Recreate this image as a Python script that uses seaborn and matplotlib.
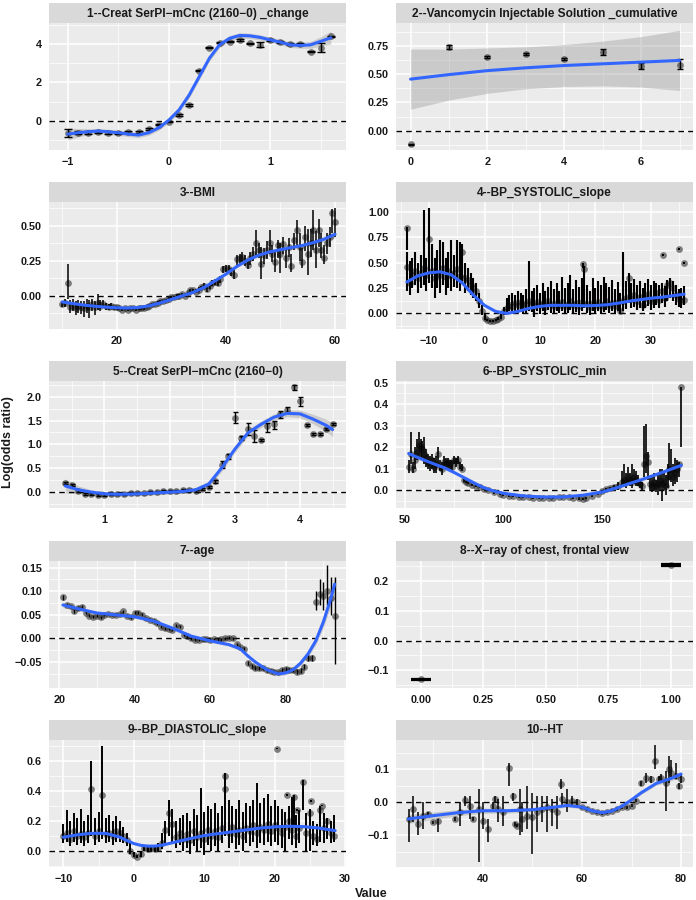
import numpy as np
import matplotlib
matplotlib.use("Agg")
import matplotlib.pyplot as plt
import seaborn as sns

sns.set_theme(style="darkgrid")
plt.rcParams["font.family"] = ["Liberation Sans", "DejaVu Sans"]

# ---- panel titles ----
titles = ["1--Creat SerPl\u2212mCnc (2160\u22120) _change",
          "2--Vancomycin Injectable Solution _cumulative",
          "3--BMI",
          "4--BP_SYSTOLIC_slope",
          "5--Creat SerPl\u2212mCnc (2160\u22120)",
          "6--BP_SYSTOLIC_min",
          "7--age",
          "8--X\u2212ray of chest, frontal view",
          "9--BP_DIASTOLIC_slope",
          "10--HT"]

# ---- 1: creatinine change ----
p1_x = [-1.0, -0.9, -0.8, -0.7, -0.6, -0.5, -0.4, -0.3, -0.2, -0.1, 0.0, 0.1, 0.2, 0.3,
        0.4, 0.5, 0.6, 0.7, 0.8, 0.9, 1.0, 1.1, 1.2, 1.3, 1.4, 1.5, 1.6]
p1_y = [-0.63, -0.62, -0.62, -0.60, -0.62, -0.65, -0.60, -0.60, -0.45, -0.20, -0.05, 0.30, 0.82, 2.62,
        3.82, 4.08, 4.13, 4.20, 4.03, 3.96, 4.22, 4.12, 4.00, 4.00, 3.61, 3.79, 4.40]
p1_lo = [-0.84, -0.70, -0.68, -0.66, -0.68, -0.70, -0.66, -0.66, -0.50, -0.25, -0.09, 0.26, 0.78, 2.58,
         3.78, 4.04, 4.09, 4.16, 3.98, 3.85, 4.18, 4.08, 3.96, 3.96, 3.57, 3.60, 4.36]
p1_hi = [-0.42, -0.54, -0.56, -0.54, -0.56, -0.60, -0.54, -0.54, -0.40, -0.15, -0.01, 0.34, 0.86, 2.66,
         3.86, 4.12, 4.17, 4.24, 4.08, 4.10, 4.26, 4.16, 4.04, 4.04, 3.65, 4.05, 4.44]
p1_sx = p1_x
p1_sy = [-0.70, -0.63, -0.58, -0.54, -0.58, -0.63, -0.70, -0.75, -0.63, -0.37, 0.03, 0.56, 1.34, 2.30,
         3.26, 3.96, 4.30, 4.45, 4.43, 4.35, 4.22, 4.10, 3.96, 3.93, 3.96, 4.14, 4.33]
p1_slo = [-1.02, -0.85, -0.74, -0.68, -0.71, -0.76, -0.83, -0.88, -0.76, -0.50, -0.10, 0.42, 1.19, 2.15,
          3.11, 3.81, 4.15, 4.31, 4.29, 4.21, 4.08, 3.96, 3.82, 3.78, 3.78, 3.90, 4.00]
p1_shi = [-0.38, -0.41, -0.42, -0.40, -0.45, -0.50, -0.57, -0.62, -0.50, -0.24, 0.16, 0.70, 1.49, 2.45,
          3.41, 4.11, 4.45, 4.59, 4.57, 4.49, 4.36, 4.24, 4.10, 4.08, 4.14, 4.38, 4.66]

# ---- 2: vancomycin cumulative ----
p2_x = [0, 1, 2, 3, 4, 5, 6, 7]
p2_y = [-0.12, 0.74, 0.65, 0.675, 0.635, 0.69, 0.57, 0.58]
p2_lo = [-0.125, 0.725, 0.64, 0.665, 0.625, 0.665, 0.54, 0.545]
p2_hi = [-0.115, 0.755, 0.66, 0.685, 0.645, 0.72, 0.60, 0.63]
p2_sx = [0, 1, 2, 3, 4, 5, 6, 7]
p2_sy = [0.455, 0.495, 0.53, 0.555, 0.575, 0.59, 0.605, 0.62]
p2_slo = [0.19, 0.27, 0.33, 0.37, 0.39, 0.395, 0.385, 0.355]
p2_shi = [0.72, 0.72, 0.73, 0.74, 0.76, 0.79, 0.83, 0.885]

# ---- 3: BMI ----
p3_x = [10.0, 10.5, 11.0, 11.5, 12.0, 12.5, 13.0, 13.5, 14.0, 14.5, 15.0, 15.5, 16.0, 16.5, 17.0, 17.5,
        18.0, 18.5, 19.0, 19.5, 20.0, 20.5, 21.0, 21.5, 22.0, 22.5, 23.0, 23.5, 24.0, 24.5, 25.0, 25.5,
        26.0, 26.5, 27.0, 27.5, 28.0, 28.5, 29.0, 29.5, 30.0, 30.5, 31.0, 31.5, 32.0, 32.5, 33.0, 33.5,
        34.0, 34.5, 35.0, 35.5, 36.0, 36.5, 37.0, 37.5, 38.0, 38.5, 39.0, 39.5, 40.0, 40.5, 41.0, 41.5,
        42.0, 42.5, 43.0, 43.5, 44.0, 44.5, 45.0, 45.5, 46.0, 46.5, 47.0, 47.5, 48.0, 48.5, 49.0, 49.5,
        50.0, 50.5, 51.0, 51.5, 52.0, 52.5, 53.0, 53.5, 54.0, 54.5, 55.0, 55.5, 56.0, 56.5, 57.0, 57.5,
        58.0, 58.5, 59.0, 59.5, 60.0]
p3_y = [-0.06, -0.05, 0.09, -0.08, -0.07, -0.09, -0.07, -0.08, -0.09, -0.07, -0.08, -0.06, -0.08, -0.05, -0.07, -0.06,
        -0.07, -0.08, -0.07, -0.08, -0.08, -0.09, -0.10, -0.09, -0.10, -0.09, -0.09, -0.10, -0.09, -0.09, -0.09, -0.08,
        -0.07, -0.06, -0.06, -0.05, -0.04, -0.04, -0.03, -0.02, -0.01, -0.01, 0.00, 0.00, 0.01, 0.00, 0.02, 0.04,
        0.04, 0.03, 0.04, 0.06, 0.07, 0.05, 0.07, 0.09, 0.10, 0.09, 0.12, 0.19, 0.20, 0.19, 0.17, 0.15,
        0.26, 0.27, 0.28, 0.25, 0.22, 0.27, 0.30, 0.38, 0.33, 0.23, 0.29, 0.33, 0.38, 0.30, 0.24, 0.36,
        0.30, 0.37, 0.27, 0.35, 0.21, 0.40, 0.47, 0.35, 0.24, 0.42, 0.30, 0.38, 0.47, 0.33, 0.47, 0.33,
        0.27, 0.38, 0.42, 0.59, 0.53]
p3_lo = [-0.08, -0.08, -0.02, -0.12, -0.11, -0.14, -0.12, -0.13, -0.15, -0.12, -0.16, -0.11, -0.14, -0.10, -0.11, -0.09,
         -0.10, -0.10, -0.09, -0.10, -0.10, -0.10, -0.11, -0.10, -0.11, -0.10, -0.10, -0.11, -0.10, -0.10, -0.10, -0.09,
         -0.08, -0.07, -0.07, -0.06, -0.05, -0.05, -0.04, -0.03, -0.02, -0.02, -0.01, -0.01, 0.00, -0.01, 0.01, 0.03,
         0.03, 0.02, 0.03, 0.04, 0.05, 0.03, 0.05, 0.07, 0.08, 0.07, 0.09, 0.16, 0.17, 0.16, 0.14, 0.12,
         0.22, 0.23, 0.24, 0.21, 0.19, 0.22, 0.25, 0.28, 0.27, 0.12, 0.23, 0.26, 0.30, 0.24, 0.17, 0.27,
         0.16, 0.30, 0.20, 0.28, 0.17, 0.33, 0.36, 0.25, 0.20, 0.32, 0.15, 0.28, 0.33, 0.20, 0.35, 0.27,
         0.23, 0.30, 0.35, 0.45, 0.42]
p3_hi = [-0.04, -0.02, 0.23, -0.03, -0.02, -0.04, -0.03, -0.04, -0.04, -0.02, -0.03, -0.02, -0.04, 0.01, -0.03, -0.03,
         -0.05, -0.06, -0.05, -0.07, -0.07, -0.08, -0.09, -0.08, -0.09, -0.08, -0.08, -0.09, -0.08, -0.08, -0.08, -0.07,
         -0.06, -0.05, -0.05, -0.04, -0.03, -0.03, -0.02, -0.01, 0.00, 0.00, 0.01, 0.01, 0.02, 0.01, 0.03, 0.05,
         0.05, 0.05, 0.06, 0.07, 0.09, 0.07, 0.09, 0.11, 0.12, 0.12, 0.14, 0.21, 0.22, 0.22, 0.20, 0.19,
         0.29, 0.30, 0.31, 0.29, 0.26, 0.31, 0.35, 0.47, 0.38, 0.35, 0.34, 0.39, 0.47, 0.36, 0.31, 0.40,
         0.38, 0.42, 0.34, 0.41, 0.30, 0.45, 0.54, 0.45, 0.34, 0.50, 0.48, 0.48, 0.61, 0.46, 0.55, 0.45,
         0.36, 0.45, 0.49, 0.62, 0.63]
p3_sx = [10, 12, 14, 16, 18, 20, 22, 24, 26, 28, 30, 32, 34, 36, 38, 40, 42, 44, 46, 48, 50, 52, 54, 56, 58, 60]
p3_sy = [-0.043, -0.055, -0.066, -0.074, -0.080, -0.085, -0.087, -0.083, -0.071, -0.050, -0.025, 0.000, 0.025,
         0.060, 0.107, 0.155, 0.210, 0.255, 0.290, 0.314, 0.330, 0.345, 0.360, 0.380, 0.405, 0.440]
p3_slo = [-0.063, -0.067, -0.075, -0.082, -0.087, -0.091, -0.092, -0.088, -0.076, -0.055, -0.030, -0.005, 0.020,
          0.055, 0.101, 0.148, 0.202, 0.246, 0.280, 0.303, 0.318, 0.332, 0.345, 0.363, 0.385, 0.415]
p3_shi = [-0.023, -0.043, -0.057, -0.066, -0.073, -0.079, -0.082, -0.078, -0.066, -0.045, -0.020, 0.005, 0.030,
          0.065, 0.113, 0.162, 0.218, 0.264, 0.300, 0.325, 0.342, 0.358, 0.375, 0.397, 0.425, 0.465]

# ---- 4: systolic slope ----
p4_x = [-14.0, -13.5, -13.0, -12.5, -12.0, -11.5, -11.0, -10.5, -10.0, -9.5, -9.0, -8.5, -8.0, -7.5, -7.0, -6.5,
        -6.0, -5.5, -5.0, -4.5, -4.0, -3.5, -3.0, -2.5, -2.0, -1.5, -1.0, -0.5, 0.0, 0.5, 1.0, 1.5,
        2.0, 2.5, 3.0, 3.5, 4.0, 4.5, 5.0, 5.5, 6.0, 6.5, 7.0, 7.5, 8.0, 8.5, 9.0, 9.5,
        10.0, 10.5, 11.0, 11.5, 12.0, 12.5, 13.0, 13.5, 14.0, 14.5, 15.0, 15.5, 16.0, 16.5, 17.0, 17.5,
        18.0, 18.5, 19.0, 19.5, 20.0, 20.5, 21.0, 21.5, 22.0, 22.5, 23.0, 23.5, 24.0, 24.5, 25.0, 25.5,
        26.0, 26.5, 27.0, 27.5, 28.0, 28.5, 29.0, 29.5, 30.0, 30.5, 31.0, 31.5, 32.0, 32.5, 33.0, 33.5,
        34.0, 34.5, 35.0, 35.5, 36.0, -14.0, 17.8, 32.2, 35.0, 36.0]
p4_y = [0.46, 0.30, 0.38, 0.42, 0.35, 0.40, 0.45, 0.38, 0.73, 0.42, 0.35, 0.40, 0.38, 0.45, 0.36, 0.42,
        0.38, 0.40, 0.44, 0.37, 0.60, 0.35, 0.33, 0.28, 0.25, 0.22, 0.12, 0.02, -0.04, -0.06, -0.07, -0.07,
        -0.06, -0.05, -0.03, 0.02, 0.05, 0.08, 0.07, 0.10, 0.08, 0.11, 0.07, 0.09, 0.12, 0.10, 0.07, 0.11,
        0.08, 0.10, 0.06, 0.12, 0.09, 0.07, 0.10, 0.08, 0.11, 0.07, 0.09, 0.12, 0.08, 0.10, 0.07, 0.11,
        0.44, 0.09, 0.06, 0.10, 0.08, 0.11, 0.07, 0.09, 0.12, 0.08, 0.10, 0.07, 0.11, 0.02, 0.12, 0.15,
        0.35, 0.14, 0.18, 0.12, 0.16, 0.08, 0.15, 0.19, 0.12, 0.14, 0.20, 0.13, 0.22, 0.15, 0.28, 0.30,
        0.25, 0.18, 0.14, 0.12, 0.13, 0.84, 0.49, 0.58, 0.63, 0.50]
p4_lo = [0.22, 0.18, 0.25, 0.28, 0.20, 0.25, 0.28, 0.22, 0.30, 0.25, 0.15, 0.25, 0.20, 0.28, 0.18, 0.25,
         0.22, 0.26, 0.25, 0.22, 0.30, 0.20, 0.22, 0.18, 0.15, 0.12, 0.05, -0.02, -0.06, -0.07, -0.08, -0.08,
         -0.07, -0.06, -0.05, -0.02, 0.00, 0.02, 0.00, 0.02, 0.00, 0.03, -0.01, 0.00, 0.02, 0.01, -0.03, 0.02,
         -0.01, 0.02, -0.02, 0.03, 0.00, -0.01, 0.02, 0.00, 0.02, -0.01, 0.00, 0.03, 0.00, 0.01, -0.02, 0.02,
         0.05, 0.00, -0.02, 0.02, -0.01, 0.02, -0.01, 0.01, 0.03, 0.00, 0.02, -0.01, 0.02, -0.01, 0.02, 0.04,
         0.10, 0.05, 0.06, 0.03, 0.05, 0.02, 0.05, 0.07, 0.03, 0.05, 0.08, 0.05, 0.10, 0.06, 0.12, 0.15,
         0.12, 0.08, 0.06, 0.05, 0.08, 0.62, 0.45, 0.57, 0.62, 0.49]
p4_hi = [0.60, 0.52, 0.55, 0.60, 0.50, 0.58, 1.02, 0.55, 1.04, 0.68, 0.55, 0.62, 0.72, 0.70, 0.55, 0.60,
         0.72, 0.58, 0.72, 0.70, 0.68, 0.50, 0.45, 0.40, 0.35, 0.30, 0.20, 0.08, -0.01, -0.05, -0.06, -0.06,
         -0.05, -0.03, 0.00, 0.06, 0.15, 0.18, 0.20, 0.18, 0.22, 0.20, 0.18, 0.24, 0.52, 0.22, 0.25, 0.28,
         0.20, 0.30, 0.22, 0.26, 0.32, 0.24, 0.30, 0.22, 0.36, 0.25, 0.30, 0.38, 0.24, 0.33, 0.26, 0.35,
         0.47, 0.28, 0.22, 0.35, 0.25, 0.32, 0.28, 0.36, 0.30, 0.26, 0.33, 0.24, 0.31, 0.20, 0.60, 0.32,
         0.40, 0.30, 0.34, 0.28, 0.32, 0.25, 0.30, 0.34, 0.28, 0.32, 0.30, 0.28, 0.30, 0.27, 0.33, 0.35,
         0.32, 0.28, 0.24, 0.25, 0.27, 0.85, 0.50, 0.59, 0.64, 0.51]
p4_sx = [-14, -12, -10, -8, -6, -4, -2, 0, 2, 4, 6, 8, 10, 12, 14, 16, 18, 20, 22, 24, 26, 28, 30, 32, 34, 36]
p4_sy = [0.31, 0.37, 0.40, 0.41, 0.38, 0.30, 0.18, 0.08, 0.02, 0.00, 0.02, 0.05, 0.07, 0.08, 0.08, 0.08, 0.075,
         0.078, 0.085, 0.10, 0.12, 0.135, 0.15, 0.16, 0.175, 0.19]
p4_slo = [0.29, 0.355, 0.39, 0.40, 0.37, 0.29, 0.17, 0.07, 0.012, -0.008, 0.013, 0.043, 0.063, 0.073, 0.073,
          0.073, 0.068, 0.071, 0.078, 0.092, 0.111, 0.125, 0.139, 0.148, 0.16, 0.17]
p4_shi = [0.33, 0.385, 0.41, 0.42, 0.39, 0.31, 0.19, 0.09, 0.028, 0.008, 0.027, 0.057, 0.077, 0.087, 0.087,
          0.087, 0.082, 0.085, 0.092, 0.108, 0.129, 0.145, 0.161, 0.172, 0.19, 0.21]

# ---- 5: creatinine ----
p5_x = [0.4, 0.5, 0.6, 0.7, 0.8, 0.9, 1.0, 1.1, 1.2, 1.3, 1.4, 1.5, 1.6, 1.7, 1.8, 1.9, 2.0, 2.1, 2.2, 2.3, 2.4,
        2.5, 2.6, 2.7, 2.8, 2.9, 3.0, 3.1, 3.2, 3.3, 3.4, 3.5, 3.6, 3.7, 3.8, 3.9, 4.0, 4.1, 4.2, 4.3, 4.4, 4.5]
p5_y = [0.19, 0.15, 0.02, -0.03, -0.04, -0.05, -0.05, -0.04, -0.04, -0.03, -0.02, -0.02, -0.01, 0.00, 0.01, 0.02,
        0.02, 0.03, 0.04, 0.05, 0.03, 0.06, 0.10, 0.23, 0.56, 0.75, 1.55, 1.13, 1.32, 1.18, 1.10, 1.38, 1.42, 1.63,
        1.73, 2.20, 1.90, 1.40, 1.22, 1.22, 1.32, 1.42]
p5_lo = [0.17, 0.13, 0.00, -0.05, -0.06, -0.07, -0.07, -0.06, -0.06, -0.05, -0.04, -0.04, -0.03, -0.02, -0.01, 0.00,
         0.00, 0.01, 0.02, 0.03, 0.01, 0.04, 0.08, 0.19, 0.50, 0.70, 1.45, 1.10, 1.20, 1.05, 1.07, 1.25, 1.33, 1.56,
         1.68, 2.15, 1.80, 1.38, 1.20, 1.20, 1.30, 1.40]
p5_hi = [0.21, 0.17, 0.04, -0.01, -0.02, -0.03, -0.03, -0.02, -0.02, -0.01, 0.00, 0.00, 0.01, 0.02, 0.03, 0.04,
         0.04, 0.05, 0.06, 0.07, 0.05, 0.08, 0.12, 0.26, 0.65, 0.80, 1.68, 1.18, 1.44, 1.30, 1.12, 1.45, 1.50, 1.70,
         1.78, 2.25, 2.00, 1.42, 1.24, 1.24, 1.34, 1.44]
p5_sx = [0.4, 0.6, 0.8, 1.0, 1.2, 1.4, 1.6, 1.8, 2.0, 2.2, 2.4, 2.6, 2.8, 3.0, 3.2, 3.4, 3.6, 3.8, 4.0, 4.2, 4.4, 4.5]
p5_sy = [0.13, 0.05, 0.00, -0.035, -0.045, -0.04, -0.03, -0.015, 0.00, 0.015, 0.05, 0.17, 0.51, 0.90, 1.24, 1.42,
         1.57, 1.65, 1.64, 1.53, 1.40, 1.31]
p5_slo = [-0.02, -0.03, -0.05, -0.075, -0.085, -0.08, -0.07, -0.055, -0.04, -0.025, 0.00, 0.11, 0.44, 0.83, 1.17,
          1.35, 1.50, 1.58, 1.56, 1.43, 1.27, 1.16]
p5_shi = [0.28, 0.13, 0.05, 0.005, -0.005, 0.00, 0.01, 0.025, 0.04, 0.055, 0.10, 0.23, 0.58, 0.97, 1.31, 1.49,
          1.64, 1.72, 1.72, 1.63, 1.53, 1.46]

# ---- 6: systolic min ----
p6_x = [52, 53, 54, 55, 56, 57, 58, 59, 60, 61, 62, 63, 64, 65, 66, 67, 68, 69, 70, 71, 72, 73, 74, 75, 76, 77, 78,
        79, 80, 81, 82, 84, 86, 88, 90, 92, 95, 98, 100, 103, 105, 108, 110, 113, 115, 118, 120, 123, 125, 128,
        130, 133, 135, 138, 140, 142, 145, 148, 150, 152, 154, 156, 158, 160, 161, 162, 163, 164, 165, 166, 167,
        168, 169, 170, 171, 172, 173, 174, 175, 176, 177, 178, 179, 180, 181, 182, 183, 184, 185, 186, 187, 188,
        189, 190]
p6_y = [0.11, 0.17, 0.10, 0.14, 0.18, 0.21, 0.20, 0.19, 0.17, 0.15, 0.13, 0.12, 0.14, 0.11, 0.12, 0.17, 0.11, 0.10,
        0.13, 0.12, 0.13, 0.12, 0.11, 0.14, 0.13, 0.14, 0.11, 0.10, 0.05,
        0.04, 0.035, 0.025, 0.02, 0.015, 0.005, 0.0, -0.01, -0.015, -0.02, -0.025, -0.028, -0.03, -0.032, -0.033,
        -0.035, -0.035, -0.036, -0.035, -0.034, -0.033, -0.030, -0.032, -0.034, -0.038, -0.042, -0.035, -0.025,
        -0.015, -0.005, 0.005, 0.01, 0.015, 0.02,
        0.04, 0.05, 0.04, 0.06, 0.05, 0.04, 0.06, 0.05, 0.04, 0.03, 0.02, 0.12, 0.16, 0.13, 0.03, 0.02, 0.04, 0.02,
        0.03, 0.05, 0.03, 0.04, 0.02, 0.06, 0.10, 0.09, 0.06, 0.08, 0.10, 0.12, 0.48]
p6_lo = [0.08, 0.12, 0.08, 0.10, 0.14, 0.15, 0.15, 0.14, 0.12, 0.11, 0.10, 0.09, 0.10, 0.08, 0.08, 0.12, 0.09, 0.07,
         0.10, 0.10, 0.10, 0.10, 0.09, 0.12, 0.11, 0.12, 0.10, 0.09, 0.04,
         0.035, 0.03, 0.02, 0.015, 0.01, 0.0, -0.005, -0.015, -0.02, -0.025, -0.03, -0.033, -0.035, -0.037, -0.038,
         -0.04, -0.04, -0.041, -0.04, -0.039, -0.038, -0.035, -0.037, -0.039, -0.043, -0.047, -0.04, -0.03, -0.02,
         -0.01, 0.0, 0.005, 0.005, 0.0,
         0.02, 0.02, 0.01, 0.03, 0.02, 0.01, 0.03, 0.02, 0.02, 0.01, 0.0, 0.06, 0.08, 0.05, 0.0, -0.01, 0.0, -0.01,
         -0.02, 0.0, -0.05, 0.0, -0.02, 0.01, 0.05, 0.04, 0.02, 0.03, 0.04, 0.06, 0.20]
p6_hi = [0.14, 0.27, 0.13, 0.20, 0.24, 0.27, 0.24, 0.23, 0.25, 0.19, 0.17, 0.16, 0.17, 0.15, 0.16, 0.20, 0.14, 0.13,
         0.16, 0.15, 0.15, 0.14, 0.14, 0.16, 0.15, 0.16, 0.13, 0.12, 0.06,
         0.045, 0.04, 0.03, 0.025, 0.02, 0.01, 0.005, -0.005, -0.01, -0.015, -0.02, -0.023, -0.025, -0.027, -0.028,
         -0.03, -0.03, -0.031, -0.03, -0.029, -0.028, -0.025, -0.027, -0.029, -0.033, -0.037, -0.03, -0.02, -0.01,
         0.0, 0.01, 0.015, 0.025, 0.04,
         0.09, 0.12, 0.08, 0.11, 0.08, 0.12, 0.10, 0.09, 0.07, 0.05, 0.04, 0.30, 0.31, 0.18, 0.06, 0.06, 0.08, 0.05,
         0.08, 0.10, 0.10, 0.09, 0.07, 0.12, 0.22, 0.19, 0.12, 0.15, 0.14, 0.13, 0.48]
p6_sx = [52, 56, 60, 65, 70, 75, 80, 85, 90, 95, 100, 110, 120, 130, 140, 150, 155, 160, 165, 170, 175, 180, 185, 190]
p6_sy = [0.171, 0.155, 0.14, 0.122, 0.105, 0.083, 0.059, 0.035, 0.012, -0.003, -0.014, -0.026, -0.031, -0.031,
         -0.023, -0.008, 0.005, 0.02, 0.035, 0.05, 0.066, 0.082, 0.099, 0.116]
p6_slo = [0.156, 0.145, 0.132, 0.116, 0.099, 0.078, 0.054, 0.031, 0.008, -0.007, -0.018, -0.030, -0.035, -0.035,
          -0.027, -0.012, 0.001, 0.015, 0.029, 0.043, 0.058, 0.072, 0.087, 0.100]
p6_shi = [0.186, 0.165, 0.148, 0.128, 0.111, 0.088, 0.064, 0.039, 0.016, 0.001, -0.010, -0.022, -0.027, -0.027,
          -0.019, -0.004, 0.009, 0.025, 0.041, 0.057, 0.074, 0.092, 0.111, 0.132]

# ---- 7: age ----
p7_x = [21, 22, 23, 24, 25, 26, 27, 28, 29, 30, 31, 32, 33, 34, 35, 36, 37, 38, 39, 40, 41, 42, 43, 44, 45, 46, 47,
        48, 49, 50, 51, 52, 53, 54, 55, 56, 57, 58, 59, 60, 61, 62, 63, 64, 65, 66, 67, 68, 69, 70, 71, 72, 73, 74,
        75, 76, 77, 78, 79, 80, 81, 82, 83, 84, 85, 86, 87, 88, 89, 90, 91, 92, 93]
p7_y = [0.087, 0.072, 0.068, 0.058, 0.065, 0.067, 0.055, 0.048, 0.046, 0.048, 0.045, 0.050, 0.052, 0.050, 0.050,
        0.052, 0.058, 0.048, 0.045, 0.055, 0.055, 0.050, 0.043, 0.040, 0.038, 0.032, 0.025, 0.022, 0.020, 0.018,
        0.028, 0.025, 0.008, 0.005, 0.000, -0.003, -0.003, -0.002, -0.002, -0.003, -0.002, -0.003, -0.002, 0.000,
        0.002, 0.000, -0.012, -0.018, -0.022, -0.052, -0.058, -0.063, -0.062, -0.063, -0.066, -0.068, -0.070,
        -0.072, -0.066, -0.065, -0.066, -0.066, -0.070, -0.068, -0.060, -0.042, -0.042, 0.077, 0.095, 0.090,
        0.100, 0.085, 0.047]
p7_elo = [0.005, 0.004, 0.004, 0.004, 0.004, 0.004, 0.004, 0.003, 0.003, 0.003, 0.003, 0.003, 0.003, 0.003, 0.003,
          0.003, 0.003, 0.003, 0.003, 0.003, 0.003, 0.003, 0.003, 0.003, 0.003, 0.003, 0.003, 0.003, 0.003, 0.003,
          0.003, 0.003, 0.003, 0.003, 0.003, 0.003, 0.003, 0.003, 0.003, 0.003, 0.003, 0.003, 0.003, 0.003, 0.003,
          0.003, 0.003, 0.003, 0.003, 0.004, 0.004, 0.004, 0.004, 0.004, 0.004, 0.004, 0.004, 0.004, 0.004, 0.004,
          0.004, 0.004, 0.005, 0.005, 0.005, 0.006, 0.006, 0.017, 0.025, 0.030, 0.030, 0.035, 0.102]
p7_ehi = [0.005, 0.004, 0.004, 0.004, 0.004, 0.004, 0.004, 0.003, 0.003, 0.003, 0.003, 0.003, 0.003, 0.003, 0.003,
          0.003, 0.003, 0.003, 0.003, 0.003, 0.003, 0.003, 0.003, 0.003, 0.003, 0.003, 0.003, 0.003, 0.003, 0.003,
          0.003, 0.003, 0.003, 0.003, 0.003, 0.003, 0.003, 0.003, 0.003, 0.003, 0.003, 0.003, 0.003, 0.003, 0.003,
          0.003, 0.003, 0.003, 0.003, 0.004, 0.004, 0.004, 0.004, 0.004, 0.004, 0.004, 0.004, 0.004, 0.004, 0.004,
          0.004, 0.004, 0.005, 0.005, 0.005, 0.006, 0.006, 0.023, 0.030, 0.030, 0.055, 0.045, 0.083]
p7_sx = [21, 25, 30, 35, 40, 45, 50, 55, 60, 65, 68, 70, 72, 75, 78, 80, 82, 84, 86, 88, 90, 92, 93]
p7_sy = [0.071, 0.063, 0.054, 0.050, 0.046, 0.037, 0.022, 0.005, -0.005, -0.013, -0.022, -0.037, -0.050, -0.066,
         -0.075, -0.073, -0.066, -0.052, -0.032, -0.005, 0.035, 0.085, 0.115]
p7_slo = [0.065, 0.059, 0.051, 0.047, 0.043, 0.034, 0.019, 0.002, -0.008, -0.016, -0.025, -0.040, -0.053, -0.069,
          -0.079, -0.077, -0.070, -0.057, -0.038, -0.013, 0.023, 0.069, 0.095]
p7_shi = [0.077, 0.067, 0.057, 0.053, 0.049, 0.040, 0.025, 0.008, -0.002, -0.010, -0.019, -0.034, -0.047, -0.063,
          -0.071, -0.069, -0.062, -0.047, -0.026, 0.003, 0.047, 0.101, 0.135]

# ---- 8: chest x-ray ----
p8_x = [0.0, 1.0]
p8_y = [-0.130, 0.253]
p8_lo = [-0.132, 0.250]
p8_hi = [-0.128, 0.256]

# ---- 9: diastolic slope ----
p9_x = [-10.0, -9.5, -9.0, -8.5, -8.0, -7.5, -7.0, -6.5, -6.0, -5.5, -5.0, -4.5, -4.0, -3.5, -3.0, -2.5, -2.0, -1.5,
        -1.0, -0.5, 0.0, 0.5, 1.0, 1.5, 2.0, 2.5, 3.0, 3.5, 4.0, 4.5, 5.0, 5.5, 6.0, 6.5, 7.0, 7.5, 8.0, 8.5,
        9.0, 9.5, 10.0, 10.5, 11.0, 11.5, 12.0, 12.5, 13.0, 13.5, 14.0, 14.5, 15.0, 15.5, 16.0, 16.5, 17.0, 17.5,
        18.0, 18.5, 19.0, 19.5, 20.0, 20.5, 21.0, 21.5, 22.0, 22.5, 23.0, 23.5, 24.0, 24.5, 25.0, 25.5, 26.0,
        26.5, 27.0, 27.5, 28.0, 28.5, 13.0, 20.3, 21.7, 22.8, 25.2, 26.8, 23.2]
p9_y = [0.10, 0.12, 0.08, 0.13, 0.10, 0.11, 0.09, 0.12, 0.41, 0.10, 0.13, 0.37, 0.11, 0.12, 0.10, 0.13, 0.12, 0.10,
        0.07, 0.00, -0.03, -0.04, -0.02, 0.02, 0.01, 0.02, 0.01, 0.02, 0.05, 0.14, 0.25, 0.18, 0.09, 0.12, 0.08,
        0.11, 0.07, 0.13, 0.09, 0.12, 0.08, 0.14, 0.10, 0.13, 0.09, 0.15, 0.50, 0.12, 0.16, 0.11, 0.14, 0.10, 0.15,
        0.13, 0.17, 0.12, 0.16, 0.14, 0.18, 0.13, 0.17, 0.15, 0.12, 0.16, 0.20, 0.14, 0.10, 0.15, 0.46, 0.12, 0.25,
        0.10, 0.08, 0.27, 0.15, 0.20, 0.12, 0.10, 0.41, 0.68, 0.37, 0.36, 0.33, 0.30, 0.27]
p9_lo = [0.05, 0.06, 0.03, 0.06, 0.04, 0.05, 0.03, 0.05, 0.10, 0.04, 0.06, 0.08, 0.05, 0.06, 0.04, 0.06, 0.06, 0.05,
         0.03, -0.02, -0.04, -0.05, -0.04, 0.00, -0.01, 0.00, -0.01, 0.00, 0.01, 0.05, 0.10, 0.06, 0.02, 0.04, 0.00,
         0.02, -0.02, 0.03, -0.01, 0.02, -0.03, 0.04, 0.00, 0.03, -0.01, 0.05, 0.10, 0.02, 0.05, 0.01, 0.04, 0.00,
         0.05, 0.03, 0.06, 0.02, 0.05, 0.04, 0.06, 0.03, 0.06, 0.04, 0.02, 0.00, 0.08, 0.04, 0.02, 0.05, 0.27, 0.00,
         0.00, 0.04, 0.03, 0.06, 0.05, 0.08, 0.05, 0.06, 0.405, 0.675, 0.365, 0.15, 0.325, 0.295, 0.265]
p9_hi = [0.18, 0.27, 0.20, 0.25, 0.22, 0.28, 0.20, 0.24, 0.60, 0.22, 0.26, 0.70, 0.22, 0.24, 0.20, 0.23, 0.20, 0.16,
         0.12, 0.05, -0.01, -0.03, 0.00, 0.04, 0.03, 0.04, 0.03, 0.05, 0.12, 0.20, 0.34, 0.28, 0.20, 0.22, 0.24,
         0.25, 0.20, 0.28, 0.24, 0.42, 0.26, 0.30, 0.28, 0.32, 0.25, 0.30, 0.52, 0.34, 0.30, 0.28, 0.34, 0.26, 0.32,
         0.30, 0.34, 0.45, 0.32, 0.35, 0.38, 0.30, 0.34, 0.30, 0.28, 0.26, 0.30, 0.36, 0.24, 0.27, 0.47, 0.25, 0.28,
         0.20, 0.18, 0.30, 0.25, 0.22, 0.20, 0.24, 0.415, 0.685, 0.375, 0.37, 0.335, 0.305, 0.275]
p9_sx = [-10, -8, -6, -4, -2, -1, 0, 1, 2, 3, 4, 6, 8, 10, 12, 14, 16, 18, 20, 22, 24, 26, 28.6]
p9_sy = [0.089, 0.105, 0.115, 0.115, 0.09, 0.068, 0.047, 0.035, 0.030, 0.030, 0.036, 0.058, 0.080, 0.100, 0.113,
         0.125, 0.138, 0.150, 0.158, 0.162, 0.160, 0.152, 0.133]
p9_slo = [0.077, 0.097, 0.108, 0.108, 0.084, 0.062, 0.041, 0.029, 0.024, 0.024, 0.030, 0.052, 0.074, 0.094, 0.107,
          0.119, 0.131, 0.143, 0.150, 0.154, 0.151, 0.142, 0.119]
p9_shi = [0.101, 0.113, 0.122, 0.122, 0.096, 0.074, 0.053, 0.041, 0.036, 0.036, 0.042, 0.064, 0.086, 0.106, 0.119,
          0.131, 0.145, 0.157, 0.166, 0.170, 0.169, 0.162, 0.147]

# ---- 10: HT ----
p10_x = [25.2, 26, 27, 28, 29, 30, 31, 34.5, 35.5, 36.5, 37.5, 38, 39.3, 40, 41, 42, 42.5, 43, 44, 45.3, 46, 46.5,
         47, 47.5, 48, 49, 50, 51, 52, 53, 54, 55, 55.7, 56, 57, 58, 59, 60, 61, 62, 63, 64, 65, 66, 67, 68, 69,
         70, 71, 72, 73, 74, 74.8, 75.5, 76, 77, 77.5, 78, 79, 79.5, 80]
p10_y = [-0.05, -0.02, -0.065, -0.04, -0.035, -0.06, -0.055, -0.05, -0.03, 0.008, -0.01, -0.05, -0.02, -0.055,
         -0.08, -0.01, 0.01, -0.02, -0.03, 0.105, 0.02, -0.065, -0.07, -0.02, -0.05, -0.04, -0.045, -0.03, -0.02,
         -0.015, -0.02, -0.03, 0.055, 0.01, 0.0, 0.005, 0.0, -0.015, -0.02, -0.025, -0.03, -0.033, -0.03, -0.025,
         -0.02, -0.015, -0.015, -0.01, 0.005, 0.058, 0.075, 0.07, 0.125, 0.07, 0.075, 0.06, 0.10, 0.09, 0.08, 0.05,
         0.072]
p10_lo = [-0.12, -0.06, -0.10, -0.08, -0.04, -0.065, -0.09, -0.055, -0.07, -0.01, -0.05, -0.055, -0.18, -0.08,
          -0.12, -0.02, 0.0, -0.06, -0.07, 0.05, 0.005, -0.07, -0.075, -0.10, -0.09, -0.08, -0.155, -0.09, -0.06,
          -0.09, -0.07, -0.08, 0.04, -0.01, -0.03, -0.01, -0.01, -0.02, -0.025, -0.03, -0.035, -0.037, -0.034,
          -0.03, -0.025, -0.02, -0.02, -0.015, 0.0, 0.05, 0.06, 0.06, 0.10, 0.06, 0.065, -0.025, 0.06, 0.07, 0.07,
          0.04, 0.06]
p10_hi = [-0.02, 0.02, -0.03, 0.0, -0.03, -0.055, -0.05, -0.045, 0.0, 0.02, 0.02, -0.045, 0.04, 0.0, -0.05, 0.0,
          0.02, 0.01, 0.02, 0.12, 0.03, -0.06, -0.065, 0.04, 0.0, 0.05, 0.03, 0.02, 0.02, 0.02, 0.01, 0.02, 0.07,
          0.03, 0.04, 0.02, 0.01, -0.01, -0.015, -0.02, -0.025, -0.029, -0.026, -0.02, -0.015, -0.01, -0.01,
          -0.005, 0.01, 0.065, 0.09, 0.08, 0.175, 0.08, 0.085, 0.095, 0.14, 0.13, 0.12, 0.06, 0.085]
p10_sx = [25, 30, 35, 40, 45, 50, 55, 57, 60, 62, 64, 66, 68, 70, 72, 75, 78, 80]
p10_sy = [-0.050, -0.040, -0.031, -0.025, -0.025, -0.022, -0.013, -0.009, -0.014, -0.025, -0.031, -0.026, -0.012,
          0.008, 0.030, 0.058, 0.073, 0.086]
p10_slo = [-0.064, -0.051, -0.040, -0.033, -0.032, -0.028, -0.018, -0.014, -0.019, -0.029, -0.035, -0.030, -0.016,
           0.003, 0.025, 0.052, 0.066, 0.077]
p10_shi = [-0.036, -0.029, -0.022, -0.017, -0.018, -0.016, -0.008, -0.004, -0.009, -0.021, -0.027, -0.022, -0.008,
           0.013, 0.035, 0.064, 0.080, 0.095]

# ---- axes settings: limits, major ticks, label decimals, cap size, bar width ----
xlims = [(-1.185, 1.75), (-0.38, 7.35), (7.6, 62.0), (-15.96, 37.6), (0.15, 4.705),
         (45.6, 195.9), (17.3, 96.0), (-0.099, 1.089), (-12.03, 30.14), (22.5, 82.4)]
ylims = [(-1.53, 5.1), (-0.17, 0.95), (-0.238, 0.669), (-0.155, 1.095), (-0.34, 2.32),
         (-0.084, 0.506), (-0.104, 0.165), (-0.158, 0.269), (-0.108, 0.738), (-0.195, 0.19)]
xticks = [[-1, 0, 1], [0, 2, 4, 6], [20, 40, 60], [-10, 0, 10, 20, 30], [1, 2, 3, 4],
          [50, 100, 150], [20, 40, 60, 80], [0, 0.25, 0.5, 0.75, 1.0], [-10, 0, 10, 20, 30], [40, 60, 80]]
yticks = [[0, 2, 4], [0, 0.25, 0.5, 0.75], [0, 0.25, 0.5], [0, 0.25, 0.5, 0.75, 1.0], [0, 0.5, 1, 1.5, 2],
          [0, 0.1, 0.2, 0.3, 0.4, 0.5], [-0.05, 0, 0.05, 0.1, 0.15], [-0.1, 0, 0.1, 0.2], [0, 0.2, 0.4, 0.6],
          [-0.1, 0, 0.1]]
xdec = [0, 0, 0, 0, 0, 0, 0, 2, 0, 0]
ydec = [0, 2, 2, 2, 1, 1, 2, 1, 1, 1]
caps = [3.2, 2.2, 0, 0, 1.8, 0, 0, 7.5, 0, 0]
barw = [1.0, 1.0, 1.1, 1.5, 1.0, 1.2, 1.0, 1.6, 1.4, 1.1]

p7_lo = [v - e for v, e in zip(p7_y, p7_elo)]
p7_hi = [v + e for v, e in zip(p7_y, p7_ehi)]

points = [(p1_x, p1_y, p1_lo, p1_hi), (p2_x, p2_y, p2_lo, p2_hi), (p3_x, p3_y, p3_lo, p3_hi),
          (p4_x, p4_y, p4_lo, p4_hi), (p5_x, p5_y, p5_lo, p5_hi), (p6_x, p6_y, p6_lo, p6_hi),
          (p7_x, p7_y, p7_lo, p7_hi), (p8_x, p8_y, p8_lo, p8_hi), (p9_x, p9_y, p9_lo, p9_hi),
          (p10_x, p10_y, p10_lo, p10_hi)]
smooths = [(p1_sx, p1_sy, p1_slo, p1_shi), (p2_sx, p2_sy, p2_slo, p2_shi), (p3_sx, p3_sy, p3_slo, p3_shi),
           (p4_sx, p4_sy, p4_slo, p4_shi), (p5_sx, p5_sy, p5_slo, p5_shi), (p6_sx, p6_sy, p6_slo, p6_shi),
           (p7_sx, p7_sy, p7_slo, p7_shi), None, (p9_sx, p9_sy, p9_slo, p9_shi),
           (p10_sx, p10_sy, p10_slo, p10_shi)]


def fmt(dec):
    return lambda v, pos: f"{v:.{dec}f}".replace("-", "\u2212")


def minor_of(major, lim):
    step = major[1] - major[0]
    cand = [major[0] - step / 2] + [m + step / 2 for m in major]
    return [c for c in cand if lim[0] <= c <= lim[1]]


W, H = 696, 900
fig = plt.figure(figsize=(W / 100, H / 100), dpi=100)
fig.patch.set_facecolor("white")

col_left = [49, 396]
pw, ph, sh = 297, 127, 20

for i in range(10):
    r, c = divmod(i, 2)
    top = 23 + 179.2 * r
    left = col_left[c]
    ax = fig.add_axes([left / W, 1 - (top + ph) / H, pw / W, ph / H])
    sax = fig.add_axes([left / W, 1 - top / H, pw / W, sh / H])
    sax.set_facecolor("#D9D9D9")
    sax.set_xticks([]); sax.set_yticks([])
    for s in sax.spines.values():
        s.set_visible(False)
    sax.text(0.5, 0.47, titles[i], ha="center", va="center", fontsize=8.6,
             fontweight="bold", color="#1A1A1A", transform=sax.transAxes)

    ax.set_facecolor("#EBEBEB")
    for s in ax.spines.values():
        s.set_visible(False)
    ax.set_xlim(*xlims[i]); ax.set_ylim(*ylims[i])
    ax.set_xticks(xticks[i]); ax.set_yticks(yticks[i])
    ax.set_xticks(minor_of(xticks[i], xlims[i]), minor=True)
    ax.set_yticks(minor_of(yticks[i], ylims[i]), minor=True)
    ax.xaxis.set_major_formatter(plt.FuncFormatter(fmt(xdec[i])))
    ax.yaxis.set_major_formatter(plt.FuncFormatter(fmt(ydec[i])))
    ax.grid(True, which="major", color="white", lw=1.1)
    ax.grid(True, which="minor", color="white", lw=0.5)
    ax.set_axisbelow(True)
    ax.tick_params(which="major", length=3, width=0.8, color="#333333", pad=2,
                   labelsize=7.8, labelcolor="#1A1A1A")
    ax.tick_params(which="minor", length=0)
    for lab in ax.get_xticklabels() + ax.get_yticklabels():
        lab.set_fontweight("bold")

    x, y, lo, hi = [np.asarray(a, dtype=float) for a in points[i]]
    sm = smooths[i]
    if sm is not None:
        ax.fill_between(sm[0], sm[2], sm[3], color="#999999", alpha=0.4, lw=0, zorder=2)
    ax.axhline(0, color="black", lw=1.0, ls=(0, (4, 3)), zorder=3)
    sns.scatterplot(x=x, y=y, ax=ax, color="#222222", alpha=0.55, s=24, linewidth=0, zorder=4)
    ax.errorbar(x, y, yerr=[y - lo, hi - y], fmt="none", ecolor="black", elinewidth=barw[i],
                capsize=caps[i], capthick=barw[i], zorder=5)
    if sm is not None:
        sns.lineplot(x=sm[0], y=sm[1], ax=ax, color="#3366FF", lw=2.2, errorbar=None, zorder=6)
    ax.set_xlabel(""); ax.set_ylabel("")

fig.text(371 / W, 1 - 894 / H, "Value", ha="center", va="center", fontsize=9, fontweight="bold",
         color="#1A1A1A")
fig.text(8 / W, 1 - 442 / H, "Log(odds ratio)", ha="center", va="center", rotation=90, fontsize=9,
         fontweight="bold", color="#1A1A1A")

fig.savefig("out.png", dpi=100)
